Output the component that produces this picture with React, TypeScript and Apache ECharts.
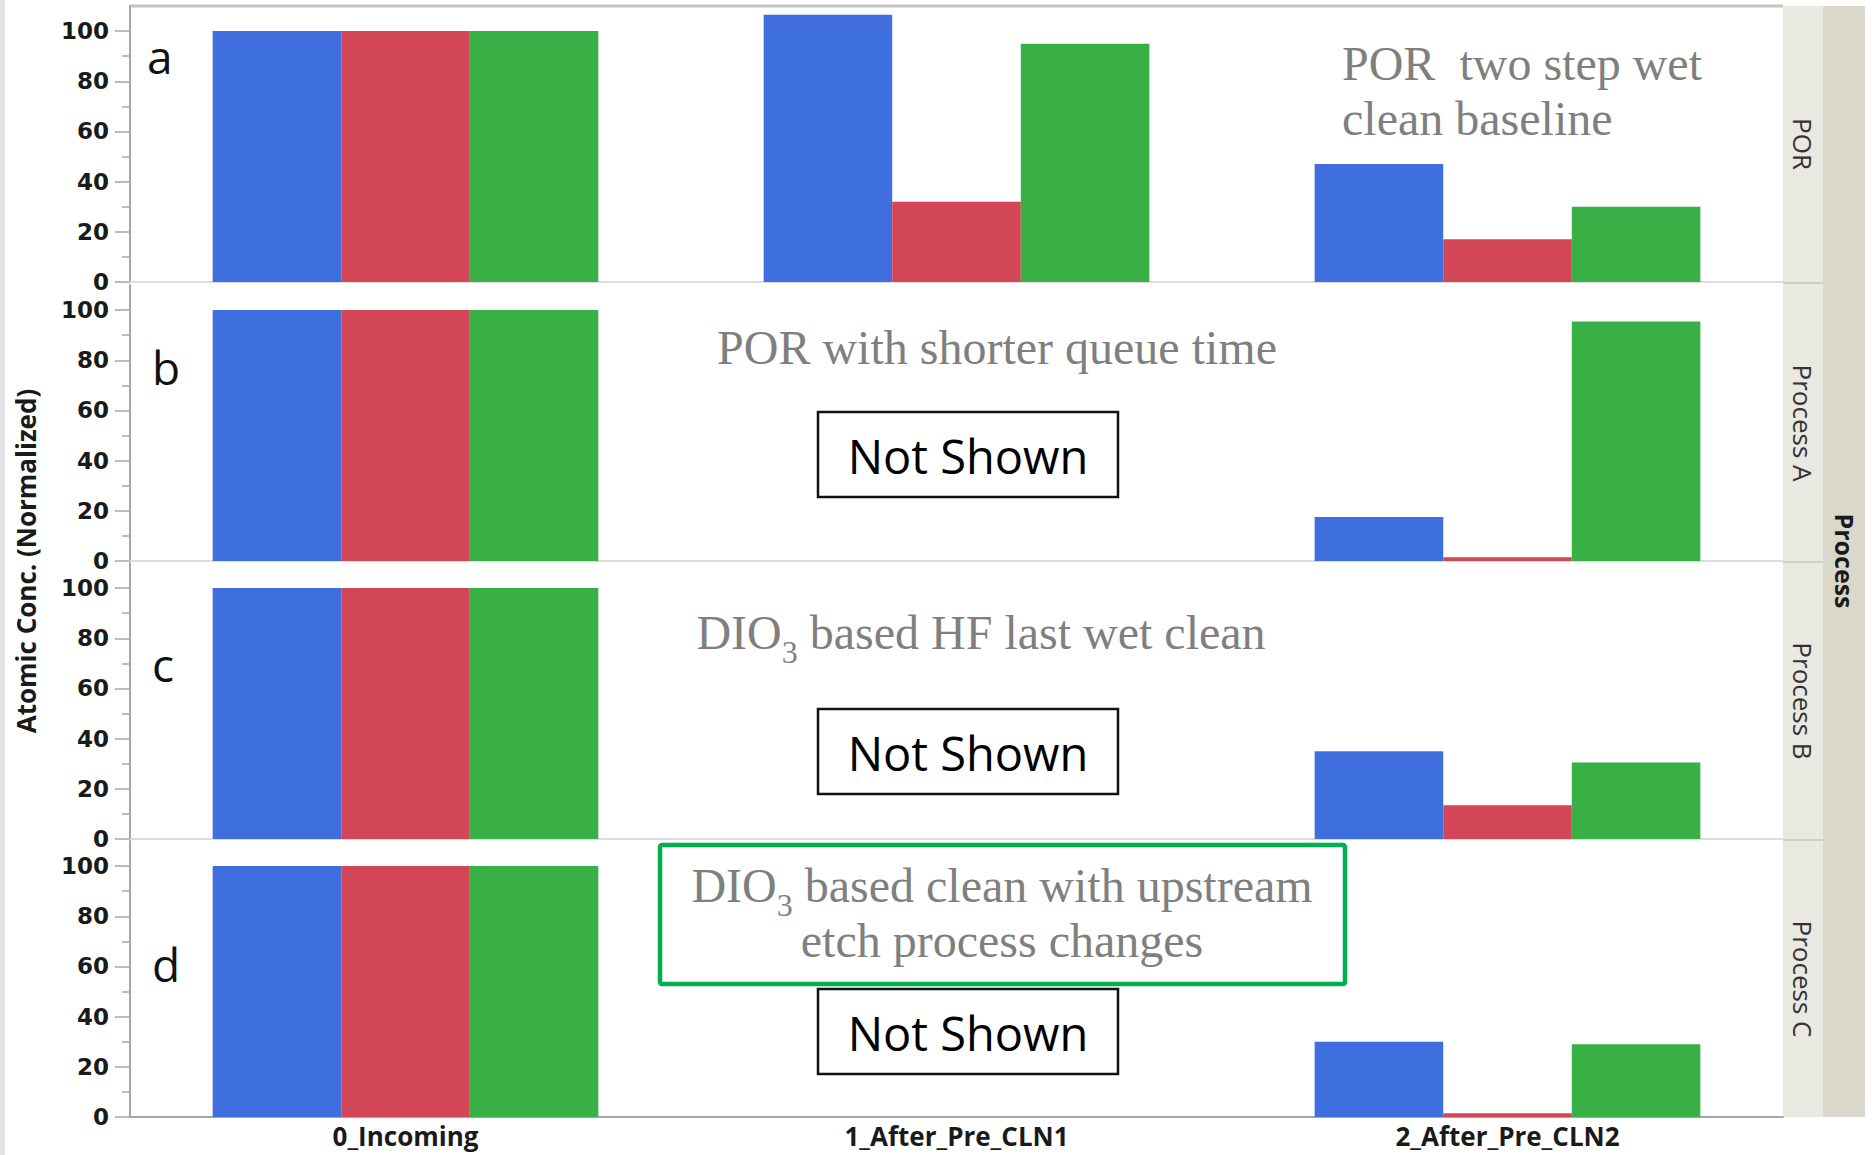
import React, { useEffect, useRef } from "react";
import * as echarts from "echarts";

// Process steps along the x axis
const categories = ["0_Incoming", "1_After_Pre_CLN1", "2_After_Pre_CLN2"];
// Facet rows (right-hand strip labels) and panel letters
const panelNames = ["POR", "Process A", "Process B", "Process C"];
const panelLetters = ["a", "b", "c", "d"];

// Normalized atomic concentration, one array per species and panel
const porBlue = [100, 106.5, 47];
const porRed = [100, 32, 17];
const porGreen = [100, 95, 30];
const procABlue = [100, null, 17.5];
const procARed = [100, null, 1.5];
const procAGreen = [100, null, 95.5];
const procBBlue = [100, null, 35];
const procBRed = [100, null, 13.5];
const procBGreen = [100, null, 30.5];
const procCBlue = [100, null, 30];
const procCRed = [100, null, 1.5];
const procCGreen = [100, null, 29];

// Y axis tick values
const majorTicks = [0, 20, 40, 60, 80, 100];
const minorTicks = [10, 30, 50, 70, 90];
const yMax = 110;

const panelData = [
  [porBlue, porRed, porGreen],
  [procABlue, procARed, procAGreen],
  [procBBlue, procBRed, procBGreen],
  [procCBlue, procCRed, procCGreen],
];

const speciesColors = ["#3F6FDE", "#D34657", "#39B045"];

const W = 1872;
const H = 1155;
const PLOT_LEFT = 130;
const PLOT_RIGHT = 1783;
const gridTops = [6, 285, 563, 841];
const GRID_H = 276;

const SANS = "'Open Sans', 'Noto Sans', sans-serif";
const TICK_FONT = "'DejaVu Sans', sans-serif";
const SERIF = "'Liberation Serif', 'DejaVu Serif', serif";
const NOTE_GRAY = "#7F7F7F";
const AXIS_GRAY = "#A6A6A6";

function buildOption(): any {
  const grid = gridTops.map((top) => ({
    left: PLOT_LEFT,
    right: W - PLOT_RIGHT,
    top,
    height: GRID_H,
    containLabel: false,
  }));

  const xAxis = gridTops.map((_, i) => ({
    gridIndex: i,
    type: "category",
    data: categories,
    axisTick: { show: false },
    axisLine: {
      show: true,
      lineStyle: { color: i === 3 ? AXIS_GRAY : "#DCDCDC", width: 2 },
    },
    axisLabel: {
      show: i === 3,
      fontFamily: SANS,
      fontWeight: "bold",
      fontSize: 26,
      color: "#1A1A1A",
      margin: 6,
    },
    splitLine: { show: false },
  }));

  const yAxis: any[] = [];
  gridTops.forEach((_, i) => {
    yAxis.push({
      gridIndex: i,
      type: "value",
      position: "left",
      min: 0,
      max: yMax,
      interval: 20,
      axisLine: { show: true, lineStyle: { color: AXIS_GRAY, width: 2 } },
      axisTick: {
        show: true,
        length: 15,
        customValues: majorTicks,
        lineStyle: { color: AXIS_GRAY, width: 1.5 },
      },
      axisLabel: {
        customValues: majorTicks,
        formatter: (v: number) => (v > 100 ? "" : String(v)),
        fontFamily: TICK_FONT,
        fontWeight: "bold",
        fontSize: 23,
        color: "#1A1A1A",
        margin: 21,
      },
      splitLine: { show: false },
    });
    yAxis.push({
      gridIndex: i,
      type: "value",
      position: "left",
      min: 0,
      max: yMax,
      interval: 10,
      axisLine: { show: false },
      axisTick: {
        show: true,
        length: 8,
        customValues: minorTicks,
        lineStyle: { color: AXIS_GRAY, width: 1.5 },
      },
      axisLabel: { show: false },
      splitLine: { show: false },
    });
  });

  const series: any[] = [];
  panelData.forEach((sets, i) => {
    sets.forEach((values, k) => {
      series.push({
        type: "bar",
        name: `${panelNames[i]}-${k}`,
        xAxisIndex: i,
        yAxisIndex: i * 2,
        data: values,
        barGap: "0%",
        barCategoryGap: "30%",
        itemStyle: { color: speciesColors[k] },
        silent: true,
      });
    });
  });

  const strips: any[] = [
    {
      type: "rect",
      shape: { x: 0, y: 0, width: 5, height: H },
      style: { fill: "#E4E4E4" },
    },
    {
      type: "line",
      shape: { x1: PLOT_LEFT, y1: 6, x2: PLOT_RIGHT, y2: 6 },
      style: { stroke: "#C4C4C4", lineWidth: 3 },
    },
    {
      type: "rect",
      shape: { x: PLOT_RIGHT, y: 6, width: 40, height: 1111 },
      style: { fill: "#E9E8E1" },
    },
    {
      type: "rect",
      shape: { x: PLOT_RIGHT + 40, y: 6, width: 42, height: 1111 },
      style: { fill: "#DAD8CA" },
    },
  ];
  [283, 562, 840].forEach((y) =>
    strips.push({
      type: "line",
      shape: { x1: PLOT_RIGHT, y1: y, x2: PLOT_RIGHT + 40, y2: y },
      style: { stroke: "#CFCEC5", lineWidth: 2 },
    })
  );
  gridTops.forEach((top, i) => {
    strips.push({
      type: "text",
      x: PLOT_RIGHT + 20,
      y: top + GRID_H / 2,
      rotation: -Math.PI / 2,
      style: {
        text: panelNames[i],
        fill: "#333333",
        font: `26px ${SANS}`,
        align: "center",
        verticalAlign: "middle",
      },
    });
  });
  strips.push({
    type: "text",
    x: PLOT_RIGHT + 62,
    y: 561,
    rotation: -Math.PI / 2,
    style: {
      text: "Process",
      fill: "#1A1A1A",
      font: `bold 25px ${SANS}`,
      align: "center",
      verticalAlign: "middle",
    },
  });

  // y axis title
  const titles: any[] = [
    {
      type: "text",
      x: 26,
      y: 561,
      rotation: Math.PI / 2,
      style: {
        text: "Atomic Conc. (Normalized)",
        fill: "#1A1A1A",
        font: `bold 26px ${SANS}`,
        align: "center",
        verticalAlign: "middle",
      },
    },
  ];

  // panel letters
  const letterPos = [
    [147, 56],
    [152, 367],
    [152, 664],
    [152, 964],
  ];
  panelLetters.forEach((l, i) =>
    titles.push({
      type: "text",
      x: letterPos[i][0],
      y: letterPos[i][1],
      z: 10,
      style: {
        text: l,
        fill: "#111111",
        font: `46px ${SANS}`,
        align: "left",
        verticalAlign: "middle",
      },
    })
  );

  // rich styles: normal serif text plus a lowered subscript
  const subRich = {
    n: {
      fontSize: 48,
      fontFamily: SERIF,
      fill: NOTE_GRAY,
      lineHeight: 60,
      verticalAlign: "top",
    },
    s: {
      fontSize: 32,
      fontFamily: SERIF,
      fill: NOTE_GRAY,
      verticalAlign: "bottom",
    },
  };

  const notes: any[] = [
    {
      type: "text",
      x: 1342,
      y: 36,
      z: 10,
      style: {
        text: "POR  two step wet\nclean baseline",
        fill: NOTE_GRAY,
        font: `48px ${SERIF}`,
        lineHeight: 55,
        align: "left",
        verticalAlign: "top",
      },
    },
    {
      type: "text",
      x: 997,
      y: 347,
      z: 10,
      style: {
        text: "POR with shorter queue time",
        fill: NOTE_GRAY,
        font: `48px ${SERIF}`,
        align: "center",
        verticalAlign: "middle",
      },
    },
    {
      type: "text",
      x: 981,
      y: 608,
      z: 10,
      style: {
        text: "{n|DIO}{s|3}{n| based HF last wet clean}",
        rich: subRich,
        align: "center",
        verticalAlign: "top",
      },
    },
    {
      type: "rect",
      z: 10,
      shape: { x: 660, y: 845, width: 685, height: 139, r: 2 },
      style: { fill: "none", stroke: "#00B050", lineWidth: 4.5 },
    },
    {
      type: "text",
      x: 1002,
      y: 861,
      z: 11,
      style: {
        text: "{n|DIO}{s|3}{n| based clean with upstream}",
        rich: subRich,
        align: "center",
        verticalAlign: "top",
      },
    },
    {
      type: "text",
      x: 1002,
      y: 940,
      z: 11,
      style: {
        text: "etch process changes",
        fill: NOTE_GRAY,
        font: `48px ${SERIF}`,
        align: "center",
        verticalAlign: "middle",
      },
    },
  ];

  // "Not Shown" placeholders for the missing middle step
  [412, 709, 989].forEach((y) => {
    notes.push({
      type: "rect",
      z: 10,
      shape: { x: 818, y, width: 300, height: 85 },
      style: { fill: "#FFFFFF", stroke: "#111111", lineWidth: 2.5 },
    });
    notes.push({
      type: "text",
      x: 968,
      y: y + 44,
      z: 11,
      style: {
        text: "Not Shown",
        fill: "#000000",
        font: `47px ${SANS}`,
        align: "center",
        verticalAlign: "middle",
      },
    });
  });

  return {
    animation: false,
    backgroundColor: "#FFFFFF",
    textStyle: { fontFamily: SANS },
    grid,
    xAxis,
    yAxis,
    series,
    graphic: { elements: [...strips, ...titles, ...notes] },
  };
}

export default function App() {
  const ref = useRef<HTMLDivElement>(null);
  useEffect(() => {
    if (!ref.current) return;
    const chart = echarts.init(ref.current, undefined, { renderer: "svg" });
    chart.setOption(buildOption());
    return () => chart.dispose();
  }, []);
  return (
    <div
      ref={ref}
      style={{ position: "absolute", left: 0, top: 0, width: W, height: H }}
    />
  );
}
